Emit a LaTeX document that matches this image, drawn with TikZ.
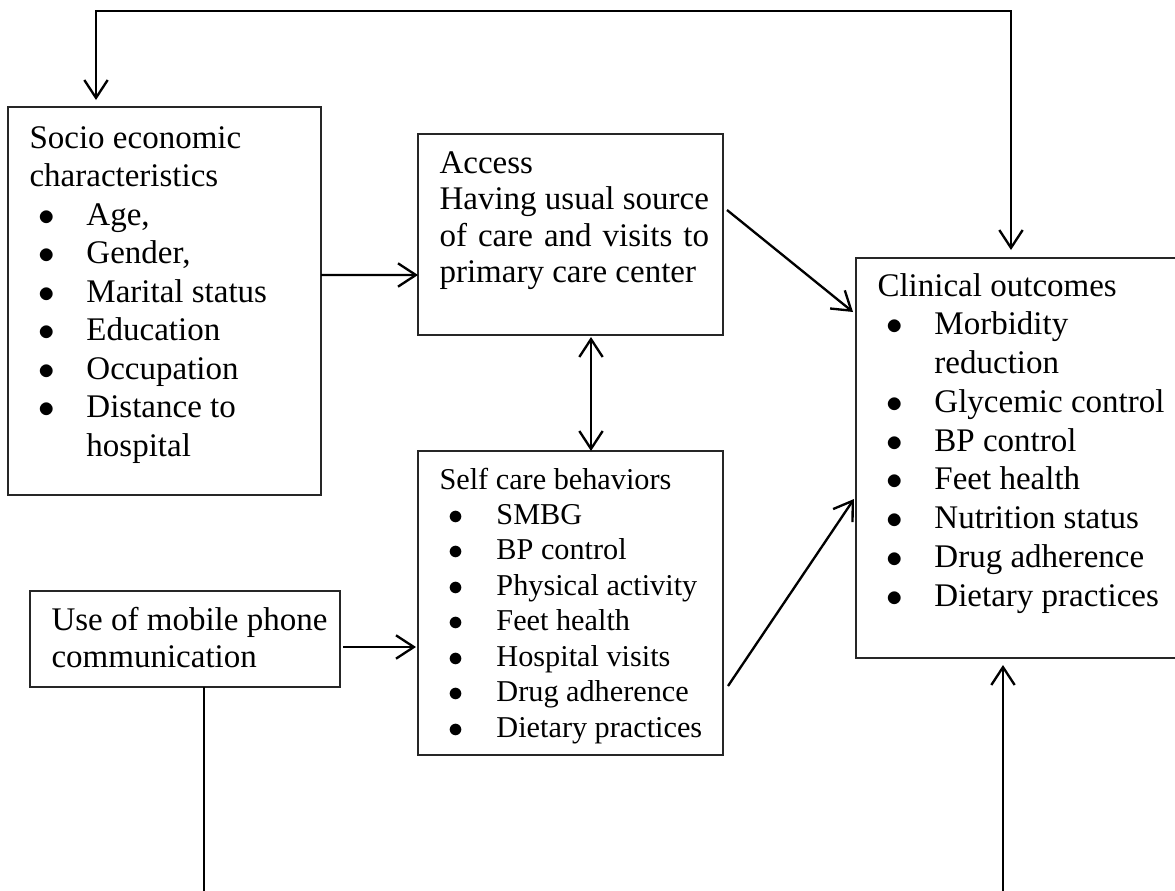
\documentclass[tikz,border=0pt]{standalone}
\usepackage{fontspec}
\setmainfont{Liberation Serif}
\usetikzlibrary{arrows.meta,calc,fit}

\newcommand{\bul}{\hspace*{3.4pt}\makebox[17.3pt][l]{$\bullet$}}
\newcommand{\hang}{\hspace*{20.7pt}}

\tikzset{
  box/.style={draw=black!85, line width=0.6pt, inner sep=0pt, outer sep=0pt},
  txt/.style={inner sep=0pt, anchor=base west},
  arr/.style={line width=0.85pt, -{Straight Barb[length=6.5pt,width=8.5pt]}},
  dblarr/.style={line width=0.85pt, {Straight Barb[length=6.5pt,width=8.5pt]}-{Straight Barb[length=6.5pt,width=8.5pt]}},
  plain/.style={line width=0.85pt}
}

\begin{document}
\begin{tikzpicture}[x=0.3636pt, y=-0.3636pt]
				\clip (0,0) rectangle (1175,891);
				% boxes
				\node[box, fit={(8,107) (321,495)}] (socio) {};
				\node[box, fit={(418,134) (723,335)}] (access) {};
				\node[box, fit={(418,451) (723,755)}] (selfcare) {};
				\node[box, fit={(30,591) (340,687)}] (mobile) {};
				\node[box, fit={(856,258) (1195,658)}] (clinical) {};
				% texts
				\node[txt] (socioTxt) at (29,148) {\parbox[t]{200pt}{\fontsize{12}{14}\selectfont
					Socio economic\\characteristics\\\bul Age,\\\bul Gender,\\\bul Marital status\\\bul Education\\\bul Occupation\\\bul Distance to\\\hang hospital}};
				\node[txt] (accessTxt) at (439,173) {\parbox[t]{200pt}{\fontsize{12}{13.3}\selectfont
					Access\\Having usual source\\\makebox[98pt][s]{of care and visits to}\\primary care center}};
				\node[txt] (selfcareTxt) at (439,489) {\parbox[t]{200pt}{\fontsize{11}{12.9}\selectfont
					Self care behaviors\\\bul SMBG\\\bul BP control\\\bul Physical activity\\\bul Feet health\\\bul Hospital visits\\\bul Drug adherence\\\bul Dietary practices}};
				\node[txt] (mobileTxt) at (51,630) {\parbox[t]{200pt}{\fontsize{12}{13.5}\selectfont
					Use of mobile phone\\communication}};
				\node[txt] (clinicalTxt) at (877,296) {\parbox[t]{200pt}{\fontsize{12}{14.1}\selectfont
					Clinical outcomes\\\bul Morbidity\\\hang reduction\\\bul Glycemic control\\\bul BP control\\\bul Feet health\\\bul Nutrition status\\\bul Drug adherence\\\bul Dietary practices}};
				% connectors
				\coordinate (fbTop) at (1011,11);
				\coordinate (mobEnd) at (204,891);
				\coordinate (clinEnd) at (1003,891);
				\draw[dblarr] ($(socio.north west)+(88,-7)$) |- (fbTop) -- ($(clinical.north west)+(155,-8)$);
				\draw[arr] ($(socio.north east)+(0,168)$) -- ($(access.north west)+(0,141)$);
				\draw[dblarr] ($(access.south west)+(173,2)$) -- ($(selfcare.north west)+(173,0)$);
				\draw[arr] ($(access.north east)+(4,76)$) -- ($(clinical.north west)+(-3,54)$);
				\draw[arr] ($(mobile.north east)+(3,56)$) -- ($(selfcare.north west)+(-2,196)$);
				\draw[arr] ($(selfcare.north east)+(5,235)$) -- ($(clinical.north west)+(-2,241)$);
				\draw[plain] (mobEnd |- mobile.south) -- (mobEnd);
				\draw[arr] (clinEnd) -- ($(clinEnd |- clinical.south)+(0,7)$);
			\end{tikzpicture}
\end{document}
